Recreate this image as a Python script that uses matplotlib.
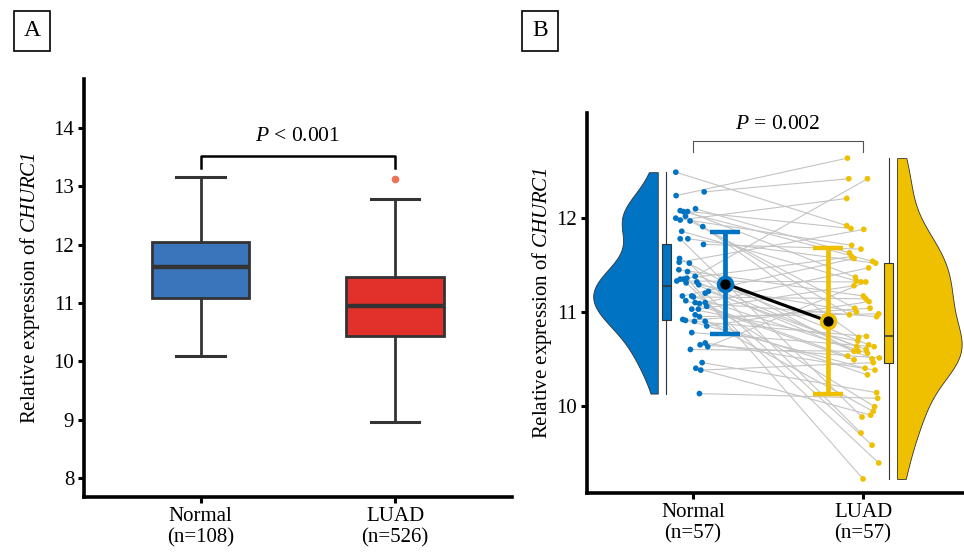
import numpy as np
import matplotlib.pyplot as plt

plt.rcParams['font.family'] = ['Liberation Serif', 'DejaVu Serif']
plt.rcParams['mathtext.fontset'] = 'custom'
plt.rcParams['mathtext.rm'] = 'Liberation Serif'
plt.rcParams['mathtext.it'] = 'Liberation Serif:italic'
plt.rcParams['mathtext.sf'] = 'Liberation Serif:italic'

# ---- panel A : box summary
groups_a = ['Normal\n(n=108)', 'LUAD\n(n=526)']
a_whislo = [10.09, 8.95]
a_q1 = [11.08, 10.43]
a_med = [11.62, 10.95]
a_q3 = [12.04, 11.45]
a_whishi = [13.17, 12.79]
a_fliers = [[], [13.12]]
colors_a = ['#3A74BA', '#E2302B']

# ---- panel B : paired samples (same order = same pair)
groups_b = ['Normal\n(n=57)', 'LUAD\n(n=57)']
normal_b = [12.49, 12.28, 12.24, 12.10, 12.08, 12.07, 12.07, 12.02, 12.00, 11.98,
            11.97, 11.91, 11.86, 11.78, 11.78, 11.72, 11.57, 11.53, 11.52, 11.45,
            11.43, 11.38, 11.36, 11.35, 11.35, 11.33, 11.32, 11.31, 11.29, 11.22,
            11.20, 11.17, 11.17, 11.16, 11.12, 11.10, 11.10, 11.09, 11.06, 11.03,
            11.03, 10.97, 10.95, 10.92, 10.91, 10.90, 10.90, 10.85, 10.78, 10.67,
            10.65, 10.63, 10.60, 10.46, 10.40, 10.38, 10.13]
luad_b = [11.92, 12.42, 12.64, 11.63, 11.89, 11.54, 11.37, 10.97, 11.71, 12.21,
          11.04, 10.73, 11.33, 11.52, 9.88, 11.67, 10.58, 11.88, 9.71, 11.17,
          10.65, 12.42, 9.22, 11.59, 10.50, 11.32, 10.63, 9.39, 11.00, 10.60,
          9.58, 11.57, 10.56, 11.14, 10.49, 10.95, 9.99, 11.47, 10.53, 10.69,
          11.28, 9.94, 10.98, 10.40, 11.04, 10.74, 10.33, 11.11, 10.63, 10.38,
          10.51, 11.32, 10.58, 10.14, 9.90, 10.46, 10.08]
# horizontal jitter of each dot
normal_jit = [-0.102, 0.065, -0.100, 0.014, -0.076, -0.057, -0.033, -0.045, -0.102, -0.076,
              -0.018, 0.057, -0.067, -0.031, -0.076, 0.061, -0.080, -0.082, -0.022, -0.084,
              -0.033, 0.012, -0.037, -0.076, -0.057, -0.096, 0.022, -0.041, 0.033, 0.090,
              0.071, -0.063, -0.008, 0.002, -0.043, 0.012, 0.071, 0.037, 0.080, -0.008,
              0.031, 0.012, 0.037, -0.061, -0.045, 0.008, 0.071, 0.080, -0.008, 0.071,
              0.041, 0.086, -0.016, 0.053, 0.016, 0.045, 0.037]
luad_jit = [-0.096, -0.084, -0.092, -0.080, -0.071, 0.056, -0.045, -0.080, -0.067, -0.096,
            -0.049, -0.026, -0.039, 0.074, -0.006, -0.012, -0.053, 0.004, -0.012, 0.002,
            0.033, 0.026, 0.000, -0.067, 0.053, -0.012, -0.037, 0.092, -0.039, 0.018,
            0.053, -0.053, 0.026, 0.016, -0.053, 0.080, 0.068, 0.033, -0.090, -0.031,
            -0.053, 0.060, 0.092, 0.012, 0.041, 0.020, 0.026, 0.035, 0.065, 0.070,
            0.096, 0.016, -0.028, 0.080, 0.045, 0.060, 0.086]
b_mean = [11.30, 10.90]
b_lo = [10.77, 10.13]
b_hi = [11.85, 11.68]
b_q1 = [10.91, 10.46]
b_med = [11.28, 10.74]
b_q3 = [11.72, 11.52]
colors_b = ['#0073C2', '#EFC000']

dark = '#333333'
ylab = r'Relative expression of $\mathsf{CHURC1}$'


def style(ax):
    for s in ['top', 'right']:
        ax.spines[s].set_visible(False)
    for s in ['left', 'bottom']:
        ax.spines[s].set_linewidth(2.6)
    ax.tick_params(width=2.2, length=4, labelsize=15, pad=3)


def kde(vals, grid):
    v = np.asarray(vals)
    sd = v.std(ddof=1)
    iqr = np.subtract(*np.percentile(v, [75, 25]))
    bw = 0.9 * min(sd, iqr / 1.34) * len(v) ** -0.2
    d = np.exp(-0.5 * ((grid[:, None] - v[None, :]) / bw) ** 2).sum(1)
    return d / d.max()


fig = plt.figure(figsize=(9.64, 5.53), dpi=100)

# ================= A
axA = fig.add_axes([0.0871, 0.1013, 0.4437, 0.7553])
stats = []
for i in range(2):
    stats.append(dict(whislo=a_whislo[i], q1=a_q1[i], med=a_med[i], q3=a_q3[i],
                      whishi=a_whishi[i], fliers=a_fliers[i]))
bp = axA.bxp(stats, positions=[1, 2], widths=0.5, capwidths=0.25, patch_artist=True,
             boxprops=dict(lw=2, edgecolor=dark),
             medianprops=dict(color=dark, lw=3.2),
             whiskerprops=dict(color=dark, lw=2),
             capprops=dict(color=dark, lw=2.2),
             flierprops=dict(marker='o', markerfacecolor='#EE7356', markeredgecolor='none',
                             markersize=5.5))
for patch, c in zip(bp['boxes'], colors_a):
    patch.set_facecolor(c)
axA.plot([1, 1, 2, 2], [13.32, 13.52, 13.52, 13.32], color='black', lw=1.8)
axA.text(1.5, 13.86, r'$P$ < 0.001', ha='center', va='center', fontsize=15.5)
axA.set_xlim(0.4, 2.6)
axA.set_ylim(7.67, 14.84)
axA.set_yticks([8, 9, 10, 11, 12, 13, 14])
axA.set_xticks([1, 2])
axA.set_xticklabels(groups_a)
axA.set_ylabel(ylab, fontsize=15, labelpad=8)
style(axA)

# ================= B
axB = fig.add_axes([0.609, 0.1085, 0.391, 0.687])
vw = 0.38
for vals, edge, side, c in [(normal_b, 0.792, -1, colors_b[0]), (luad_b, 2.2, 1, colors_b[1])]:
    grid = np.linspace(min(vals), max(vals), 300)
    d = kde(vals, grid)
    axB.fill_betweenx(grid, edge, edge + side * vw * d, facecolor=c, edgecolor=dark, lw=0.6,
                      zorder=2)

bstats = []
for i, vals in enumerate([normal_b, luad_b]):
    bstats.append(dict(whislo=min(vals), q1=b_q1[i], med=b_med[i], q3=b_q3[i],
                       whishi=max(vals), fliers=[]))
bpb = axB.bxp(bstats, positions=[0.842, 2.152], widths=0.053, patch_artist=True,
              showcaps=False, showfliers=False,
              boxprops=dict(lw=0.8, edgecolor=dark),
              medianprops=dict(color=dark, lw=1.1),
              whiskerprops=dict(color=dark, lw=0.8))
for patch, c in zip(bpb['boxes'], colors_b):
    patch.set_facecolor(c)

nx = [1 + j for j in normal_jit]
lx = [2 + j for j in luad_jit]
for i in range(len(normal_b)):
    axB.plot([nx[i], lx[i]], [normal_b[i], luad_b[i]], color='#C4C4C4', lw=0.8, zorder=1)
axB.scatter(nx, normal_b, s=17, color=colors_b[0], edgecolors='none', zorder=3)
axB.scatter(lx, luad_b, s=17, color=colors_b[1], edgecolors='none', zorder=3)

mx = [1.19, 1.796]
for i in range(2):
    axB.errorbar(mx[i], b_mean[i], yerr=[[b_mean[i] - b_lo[i]], [b_hi[i] - b_mean[i]]],
                 fmt='none', ecolor=colors_b[i], elinewidth=3.4, capsize=11, capthick=3.2,
                 zorder=4)
axB.plot(mx, b_mean, color='black', lw=2.3, zorder=5)
for i in range(2):
    axB.plot(mx[i], b_mean[i], 'o', ms=10, mfc='black', mec=colors_b[i], mew=2.6, zorder=6)

axB.plot([1, 1, 2, 2], [12.71, 12.82, 12.82, 12.71], color='#555555', lw=0.8)
axB.text(1.5, 13.0, r'$P$ = 0.002', ha='center', va='center', fontsize=15.5)
axB.set_xlim(0.376, 2.594)
axB.set_ylim(9.07, 13.12)
axB.set_yticks([10, 11, 12])
axB.set_xticks([1, 2])
axB.set_xticklabels(groups_b)
axB.set_ylabel(ylab, fontsize=15, labelpad=2)
style(axB)

for t, x in [('A', 32), ('B', 540)]:
    fig.text(x / 964, 1 - 31 / 553, t, ha='center', va='center', fontsize=17,
             bbox=dict(boxstyle='square,pad=0.42', fc='white', ec='black', lw=1.2))

fig.savefig('out.png', dpi=100)
